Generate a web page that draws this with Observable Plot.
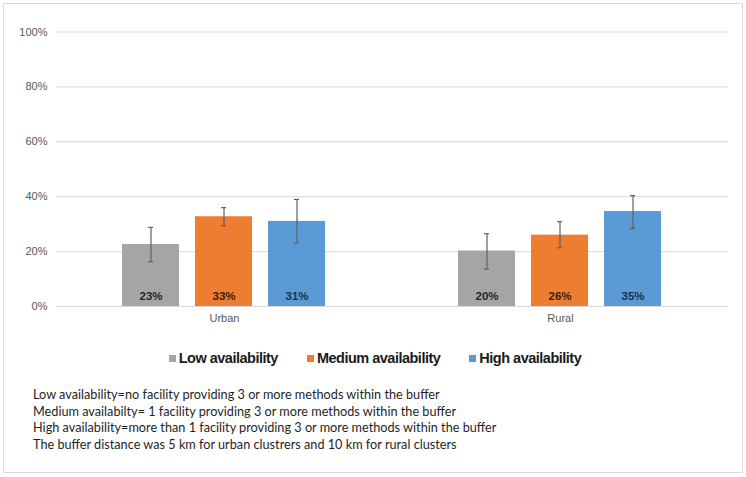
<!DOCTYPE html>
<html>
<head>
<meta charset="utf-8">
<script src="https://cdn.jsdelivr.net/npm/d3@7"></script>
<script src="https://cdn.jsdelivr.net/npm/@observablehq/plot@0.6"></script>
<style>
  html, body { margin: 0; padding: 0; background: #fff; }
  body { width: 746px; height: 477px; position: relative; overflow: hidden; }
  #frame { position: absolute; left: 3px; top: 3px; width: 738px; height: 468px; border: 1px solid #d9d9d9; }
  #chart { position: absolute; left: 0; top: 0; }
  #legend { position: absolute; left: 0; top: 349px; width: 746px; height: 18px; display: flex; justify-content: center; align-items: center;
            font-family: "Liberation Sans", Arial, sans-serif; font-weight: bold; font-size: 14.5px; letter-spacing: -0.5px; color: #1a1a1a; gap: 29px; padding-left: 4px; box-sizing: border-box; }
  .item { display: flex; align-items: center; }
  .sw { width: 7px; height: 7px; margin-right: 3px; }
  #caption { position: absolute; left: 33px; top: 386px; font-family: Lato, "Liberation Sans", sans-serif; font-size: 12.7px; line-height: 16.5px; color: #1f1f1f; }
</style>
</head>
<body>
<div id="frame"></div>
<div id="chart"></div>
<div id="legend"></div>
<div id="caption"></div>
<script>
const areas = ["Urban", "Rural"];
const levels = ["Low availability", "Medium availability", "High availability"];
const urbanValues = [22.6, 32.7, 31.0];
const ruralValues = [20.2, 26.0, 34.6];
const urbanLower = [16.3, 29.4, 23.1];
const urbanUpper = [28.8, 36.0, 39.0];
const ruralLower = [13.6, 21.4, 28.4];
const ruralUpper = [26.5, 30.9, 40.4];
const yTicks = [0, 20, 40, 60, 80, 100];
const barColors = ["#a5a5a5", "#ed7d31", "#5b9bd5"];
const labelColors = ["#262626", "#3a1e0c", "#1c2f4d"];
const captionLines = [
  "Low availability=no facility providing 3 or more methods within the buffer",
  "Medium availabilty= 1 facility providing 3 or  more methods within the buffer",
  "High availability=more than 1 facility providing 3 or more methods within the buffer",
  "The buffer distance was 5 km for urban clustrers and 10 km for rural clusters"
];

const values = {Urban: urbanValues, Rural: ruralValues};
const lowers = {Urban: urbanLower, Rural: ruralLower};
const uppers = {Urban: urbanUpper, Rural: ruralUpper};
const data = areas.flatMap(a => levels.map((l, j) => ({
  area: a, level: l, value: values[a][j], lo: lowers[a][j], hi: uppers[a][j]
})));

const plot = Plot.plot({
  width: 746,
  height: 330,
  marginLeft: 55,
  marginRight: 18,
  marginTop: 31.5,
  marginBottom: 24,
  style: {fontFamily: "Arial, Liberation Sans, sans-serif", fontSize: "11px", color: "#595959", background: "transparent"},
  fx: {domain: areas, padding: 0, label: null, axis: "bottom", tickSize: 0, tickPadding: 8},
  x: {domain: levels, paddingInner: 0.216, paddingOuter: 0.88, axis: null},
  y: {domain: [0, 100], axis: null},
  color: {domain: levels, range: barColors},
  marks: [
    Plot.gridY(yTicks, {stroke: "#d9d9d9", strokeOpacity: 1, strokeWidth: 1}),
    Plot.axisY(yTicks, {tickFormat: d => d + "%", tickSize: 0, tickPadding: 9, label: null, fill: "#595959"}),
    Plot.barY(data, {fx: "area", x: "level", y: "value", fill: "level"}),
    Plot.ruleX(data, {fx: "area", x: "level", y1: "lo", y2: "hi", stroke: "#606060", strokeWidth: 1.2}),
    Plot.tickY(data, {fx: "area", x: "level", y: "lo", stroke: "#606060", strokeWidth: 1.2, insetLeft: 26, insetRight: 26}),
    Plot.tickY(data, {fx: "area", x: "level", y: "hi", stroke: "#606060", strokeWidth: 1.2, insetLeft: 26, insetRight: 26}),
    ...levels.map((l, j) => Plot.text(data.filter(d => d.level === l), {
      fx: "area", x: "level", y: 0, dy: -10,
      text: d => Math.round(d.value) + "%",
      fill: labelColors[j], fontWeight: "bold", fontSize: 11.5
    }))
  ]
});
document.getElementById("chart").appendChild(plot);

const legend = document.getElementById("legend");
levels.forEach((l, j) => {
  const item = document.createElement("div");
  item.className = "item";
  const sw = document.createElement("span");
  sw.className = "sw";
  sw.style.background = barColors[j];
  const t = document.createElement("span");
  t.textContent = l;
  item.appendChild(sw);
  item.appendChild(t);
  legend.appendChild(item);
});

const cap = document.getElementById("caption");
captionLines.forEach(s => {
  const d = document.createElement("div");
  d.textContent = s;
  cap.appendChild(d);
});
</script>
</body>
</html>
